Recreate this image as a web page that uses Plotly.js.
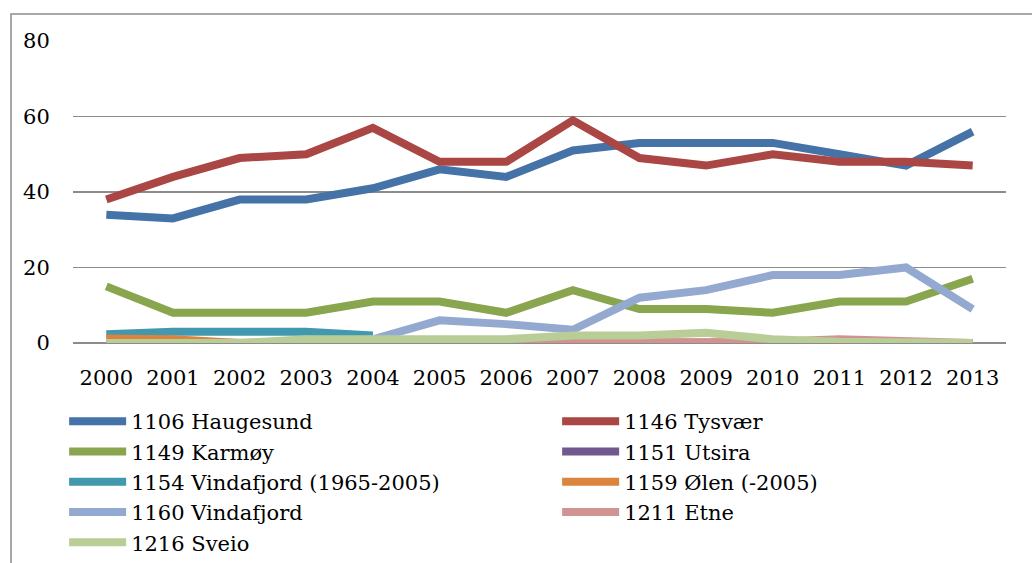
<!DOCTYPE html>
<html>
<head>
<meta charset="utf-8">
<script src="https://cdn.plot.ly/plotly-3.0.1.min.js"></script>
<style>
  html, body { margin: 0; padding: 0; background: #fff; }
  #wrap { width: 1032px; height: 563px; overflow: hidden; position: relative; }
  #chart { width: 1032px; height: 585px; }
</style>
</head>
<body>
<div id="wrap"><div id="chart"></div></div>
<script>
const years = ["2000","2001","2002","2003","2004","2005","2006","2007","2008","2009","2010","2011","2012","2013"];

const haugesund   = [34, 33, 38, 38, 41, 46, 44, 51, 53, 53, 53, 50, 47, 56];
const tysvaer     = [38, 44, 49, 50, 57, 48, 48, 59, 49, 47, 50, 48, 48, 47];
const karmoy      = [15, 8, 8, 8, 11, 11, 8, 14, 9, 9, 8, 11, 11, 17];
const utsira      = [0, 0, 0, 0, 0, 0, 0, 0, 0, 0, 0, 0, 0, 0];
const vindafjord1154 = [2.3, 3, 3, 3, 2, null, null, null, null, null, null, null, null, null];
const olen        = [1.2, 1, 0, 0, 0, 0, null, null, null, null, null, null, null, null];
const vindafjord1160 = [0, 0, 0, 0, 1, 6, 5, 3.5, 12, 14, 18, 18, 20, 9];
const etne        = [0, 0, 0, 0, 0, 0, 0.2, 0.4, 0.4, 0.5, 0.3, 1, 0.3, 0];
const sveio       = [0, 0, 0, 1, 1, 1, 1, 2, 2, 2.7, 1, 0.3, 0, 0];

const names  = ["1106 Haugesund", "1146 Tysvær", "1149 Karmøy", "1151 Utsira",
                "1154 Vindafjord (1965-2005)", "1159 Ølen (-2005)", "1160 Vindafjord",
                "1211 Etne", "1216 Sveio"];
const series = [haugesund, tysvaer, karmoy, utsira, vindafjord1154, olen, vindafjord1160, etne, sveio];
const colors = ["#4572A7", "#AA4643", "#89A54E", "#71588F", "#4198AF", "#DB843D", "#93A9CF", "#D19392", "#B9CD96"];

const FONT = "DejaVu Serif";

const traces = series.map((vals, i) => ({
  type: "scatter",
  mode: "lines",
  x: years,
  y: vals,
  name: names[i],
  line: { color: colors[i], width: 8 },
  connectgaps: false,
  // left-column entries are wide, right-column entries narrow
  legendwidth: (i % 2 === 0) ? 421 : 250
}));

const layout = {
  width: 1032,
  height: 585,
  margin: { l: 73, r: 26, t: 41, b: 242 },
  paper_bgcolor: "#ffffff",
  plot_bgcolor: "#ffffff",
  font: { family: FONT, size: 21, color: "#000000" },
  showlegend: true,
  hovermode: false,
  xaxis: {
    type: "category",
    range: [-0.5, 13.5],
    showgrid: false,
    zeroline: false,
    showline: false,
    ticks: "outside",
    ticklen: 16,
    tickcolor: "rgba(0,0,0,0)",
    tickfont: { family: FONT, size: 21, color: "#000" },
    automargin: false,
    fixedrange: true
  },
  yaxis: {
    range: [0, 80],
    dtick: 20,
    showgrid: true,
    gridcolor: "#8c8c8c",
    gridwidth: 1.5,
    zeroline: true,
    zerolinecolor: "#8c8c8c",
    zerolinewidth: 1.5,
    showline: false,
    ticks: "outside",
    ticklen: 18,
    tickcolor: "rgba(0,0,0,0)",
    tickfont: { family: FONT, size: 21, color: "#000" },
    automargin: false,
    fixedrange: true
  },
  legend: {
    orientation: "h",
    x: -0.0095,
    xanchor: "left",
    y: -0.192,
    yanchor: "top",
    entrywidthmode: "pixels",
    itemwidth: 57,
    tracegroupgap: 0,
    font: { family: FONT, size: 21, color: "#000" },
    bgcolor: "rgba(0,0,0,0)"
  },
  shapes: [
    { type: "rect", xref: "paper", yref: "paper",
      x0: (11 - 73) / 933, x1: 1.2, y0: -0.95, y1: (343 - 14) / 302,
      line: { color: "#8c8c8c", width: 1.5 }, fillcolor: "rgba(0,0,0,0)", layer: "below" }
  ]
};

Plotly.newPlot("chart", traces, layout, { displayModeBar: false, staticPlot: true });
</script>
</body>
</html>
